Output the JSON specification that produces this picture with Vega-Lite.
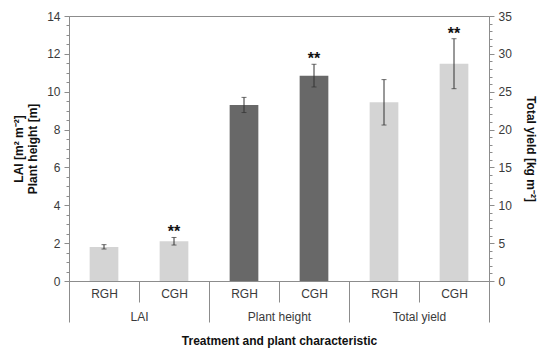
{
  "$schema": "https://vega.github.io/schema/vega-lite/v6.json",
  "width": 420,
  "height": 265,
  "autosize": {"type": "none"},
  "padding": {"left": 69, "top": 16, "right": 61, "bottom": 73},
  "config": {
    "view": {"stroke": "#8c8c8c", "strokeWidth": 1},
    "font": "Liberation Sans",
    "axis": {
      "labelFont": "Liberation Sans",
      "titleFont": "Liberation Sans",
      "labelFontSize": 12,
      "labelColor": "#3a3a3a",
      "titleFontSize": 12,
      "titleFontWeight": "bold",
      "titleColor": "#111111",
      "domainColor": "#8c8c8c",
      "tickColor": "#8c8c8c",
      "grid": false
    }
  },
  "datasets": {
    "lh": [
      {"key": "LAI|RGH", "group": "LAI", "treatment": "RGH", "mean": 1.8, "lower": 1.69, "upper": 1.92, "sig": ""},
      {"key": "LAI|CGH", "group": "LAI", "treatment": "CGH", "mean": 2.1, "lower": 1.9, "upper": 2.3, "sig": "**"},
      {"key": "Plant height|RGH", "group": "Plant height", "treatment": "RGH", "mean": 9.3, "lower": 8.9, "upper": 9.7, "sig": ""},
      {"key": "Plant height|CGH", "group": "Plant height", "treatment": "CGH", "mean": 10.85, "lower": 10.25, "upper": 11.45, "sig": "**"}
    ],
    "yield": [
      {"key": "Total yield|RGH", "group": "Total yield", "treatment": "RGH", "mean": 23.6, "lower": 20.6, "upper": 26.6, "sig": ""},
      {"key": "Total yield|CGH", "group": "Total yield", "treatment": "CGH", "mean": 28.7, "lower": 25.4, "upper": 32.0, "sig": "**"}
    ],
    "groups": [
      {"group": "LAI"},
      {"group": "Plant height"},
      {"group": "Total yield"}
    ]
  },
  "layer": [
    {
      "layer": [
        {
          "data": {"name": "lh"},
          "encoding": {
            "x": {
              "field": "key", "type": "nominal",
              "scale": {"domain": ["LAI|RGH", "LAI|CGH", "Plant height|RGH", "Plant height|CGH", "Total yield|RGH", "Total yield|CGH"], "paddingInner": 0, "paddingOuter": 0},
              "axis": {"labelExpr": "split(datum.label, '|')[1]", "tickBand": "extent", "tickSize": 21, "labelPadding": -14, "labelAngle": 0, "title": null, "domain": true}
            },
            "y": {
              "field": "mean", "type": "quantitative",
              "scale": {"domain": [0, 14], "nice": false},
              "axis": {
                "orient": "left",
                "values": [0, 0.5, 1, 1.5, 2, 2.5, 3, 3.5, 4, 4.5, 5, 5.5, 6, 6.5, 7, 7.5, 8, 8.5, 9, 9.5, 10, 10.5, 11, 11.5, 12, 12.5, 13, 13.5, 14],
                "labelExpr": "datum.value % 2 === 0 ? format(datum.value, 'd') : ''",
                "tickSize": {"condition": {"test": "datum.value % 2 === 0", "value": 5}, "value": 3},
                "labelPadding": 4,
                "title": ["LAI [m² m⁻²]", "Plant height [m]"],
                "titleLineHeight": 14,
                "titlePadding": 7
              }
            }
          },
          "layer": [
            {
              "mark": {"type": "bar", "width": {"band": 0.41}},
              "encoding": {
                "color": {"field": "group", "type": "nominal", "scale": {"domain": ["LAI", "Plant height", "Total yield"], "range": ["#d4d4d4", "#686868", "#d4d4d4"]}, "legend": null}
              }
            },
            {
              "mark": {"type": "errorbar", "color": "#333333", "thickness": 1, "ticks": {"size": 5, "thickness": 1}},
              "encoding": {
                "y": {"field": "lower", "type": "quantitative"},
                "y2": {"field": "upper"}
              }
            },
            {
              "mark": {"type": "text", "fontSize": 16, "fontWeight": "bold", "baseline": "alphabetic", "dy": 0, "color": "#111111"},
              "encoding": {
                "y": {"field": "upper", "type": "quantitative"},
                "text": {"field": "sig"}
              }
            }
          ]
        },
        {
          "data": {"name": "yield"},
          "encoding": {
            "x": {
              "field": "key", "type": "nominal",
              "scale": {"domain": ["LAI|RGH", "LAI|CGH", "Plant height|RGH", "Plant height|CGH", "Total yield|RGH", "Total yield|CGH"], "paddingInner": 0, "paddingOuter": 0},
              "axis": {"labelExpr": "split(datum.label, '|')[1]", "tickBand": "extent", "tickSize": 21, "labelPadding": -14, "labelAngle": 0, "title": null, "domain": true}
            },
            "y": {
              "field": "mean", "type": "quantitative",
              "scale": {"domain": [0, 35], "nice": false},
              "axis": {
                "orient": "right",
                "values": [0, 1, 2, 3, 4, 5, 6, 7, 8, 9, 10, 11, 12, 13, 14, 15, 16, 17, 18, 19, 20, 21, 22, 23, 24, 25, 26, 27, 28, 29, 30, 31, 32, 33, 34, 35],
                "labelExpr": "datum.value % 5 === 0 ? datum.label : ''",
                "tickSize": {"condition": {"test": "datum.value % 5 === 0", "value": 5}, "value": 3},
                "labelPadding": 4,
                "title": "Total yield [kg m⁻²]",
                "titlePadding": 12
              }
            }
          },
          "layer": [
            {
              "mark": {"type": "bar", "width": {"band": 0.41}},
              "encoding": {
                "color": {"field": "group", "type": "nominal", "scale": {"domain": ["LAI", "Plant height", "Total yield"], "range": ["#d4d4d4", "#686868", "#d4d4d4"]}, "legend": null}
              }
            },
            {
              "mark": {"type": "errorbar", "color": "#333333", "thickness": 1, "ticks": {"size": 5, "thickness": 1}},
              "encoding": {
                "y": {"field": "lower", "type": "quantitative"},
                "y2": {"field": "upper"}
              }
            },
            {
              "mark": {"type": "text", "fontSize": 16, "fontWeight": "bold", "baseline": "alphabetic", "dy": 0, "color": "#111111"},
              "encoding": {
                "y": {"field": "upper", "type": "quantitative"},
                "text": {"field": "sig"}
              }
            }
          ]
        }
      ],
      "resolve": {"scale": {"y": "independent"}}
    },
    {
      "data": {"name": "groups"},
      "mark": {"type": "point", "opacity": 0},
      "encoding": {
        "x": {
          "field": "group", "type": "nominal",
          "scale": {"domain": ["LAI", "Plant height", "Total yield"], "paddingInner": 0, "paddingOuter": 0},
          "axis": {"orient": "bottom", "tickBand": "extent", "tickSize": 41, "labelPadding": -11, "labelAngle": 0, "domain": false, "title": "Treatment and plant characteristic", "titlePadding": 13}
        }
      }
    }
  ],
  "resolve": {"scale": {"x": "independent"}}
}
